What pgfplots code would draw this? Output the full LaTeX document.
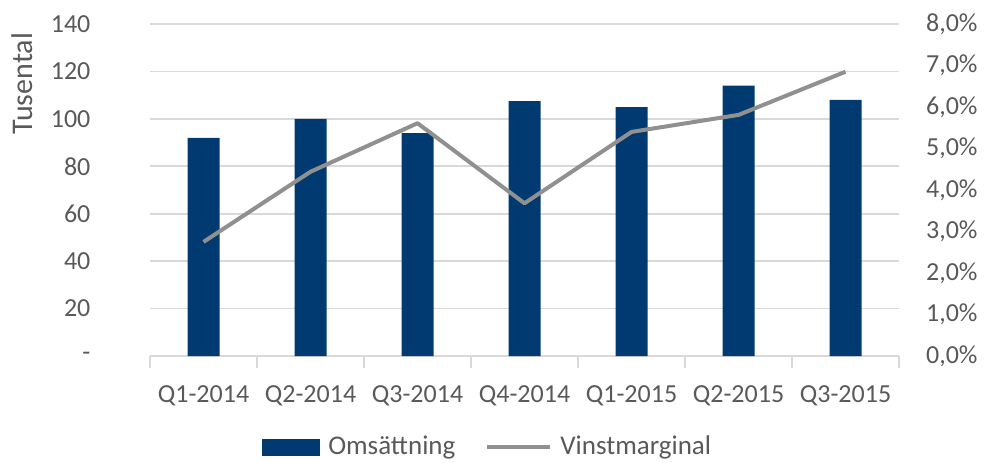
\documentclass[border=0pt]{standalone}
\usepackage{fontspec}
\setmainfont{Carlito}
\usepackage{pgfplots}
\pgfplotsset{compat=1.18}
\definecolor{navy}{RGB}{0,58,112}
\definecolor{lgray}{RGB}{144,144,144}
\definecolor{txt}{RGB}{89,89,89}
\definecolor{gridc}{RGB}{217,217,217}
\begin{document}
\fontsize{13}{15.6}\selectfont
\begin{tikzpicture}
\begin{axis}[
  scale only axis, width=374.5pt, height=166pt,
  xmin=-0.5, xmax=6.5, ymin=0, ymax=140,
  axis x line*=bottom, axis y line*=left,
  y axis line style={draw=none},
  x axis line style={draw=gridc, line width=0.8pt, -},
  xtick={0,...,6},
  xticklabels={Q1-2014,Q2-2014,Q3-2014,Q4-2014,Q1-2015,Q2-2015,Q3-2015},
  major x tick style={draw=none},
  minor xtick={-0.5,0.5,...,6.5},
  minor x tick style={draw=gridc, line width=0.8pt},
  minor tick length=6pt, tick align=outside,
  ytick={0,20,...,140}, yticklabels={-,20,40,60,80,100,120,140},
  major y tick style={draw=none},
  ymajorgrids, grid style={gridc, line width=0.8pt},
  tick label style={text=txt, font=\fontsize{13}{15.6}\selectfont},
  /pgf/number format/assume math mode=true,
  yticklabel style={xshift=-21pt},
  xticklabel style={yshift=-6pt},
  legend style={at={(rel axis cs:0.455,-0.274)}, anchor=center, legend columns=2, draw=none, fill=none,
    font=\fontsize{13.5}{16}\selectfont, text=txt,
    nodes={inner xsep=4pt},
    /tikz/every even column/.append style={column sep=11pt}},
]
\coordinate (SW) at (rel axis cs:0,0);
\coordinate (NE) at (rel axis cs:1,1);
\coordinate (YL) at (rel axis cs:0,0.82);
\addplot[fill=navy, draw=none, ybar, bar width=16pt, forget plot] coordinates {(0,92)(1,100)(2,94)(3,107.5)(4,105)(5,114)(6,108)};
\addlegendimage{legend image code/.code={\fill[navy] (0pt,-4pt) rectangle (28.5pt,4pt);}}
\addlegendentry{Omsättning}
\addlegendimage{legend image code/.code={\draw[lgray, line width=2pt] (0pt,0pt) -- (31.5pt,0pt);}}
\addlegendentry{Vinstmarginal}
\end{axis}
\begin{axis}[
  scale only axis, width=374.5pt, height=166pt,
  xmin=-0.5, xmax=6.5, ymin=0, ymax=8,
  axis x line=none, axis y line*=right,
  y axis line style={draw=none},
  ytick={0,...,8},
  yticklabels={{0,0\%},{1,0\%},{2,0\%},{3,0\%},{4,0\%},{5,0\%},{6,0\%},{7,0\%},{8,0\%}},
  major y tick style={draw=none},
  tick label style={text=txt, font=\fontsize{13}{15.6}\selectfont},
  yticklabel style={anchor=west, xshift=9pt},
]
\addplot[lgray, line width=2pt, line join=round] coordinates {(0,2.75)(1,4.44)(2,5.61)(3,3.68)(4,5.40)(5,5.81)(6,6.85)};
\end{axis}
\node[rotate=90, text=txt, font=\fontsize{15}{18}\selectfont] at ([xshift=-64pt]YL) {Tusental};
\pgfresetboundingbox
\path[use as bounding box] ([shift={(-75pt,-53pt)}]SW) rectangle ([shift={(42.5pt,12pt)}]NE);
\end{tikzpicture}
\end{document}
